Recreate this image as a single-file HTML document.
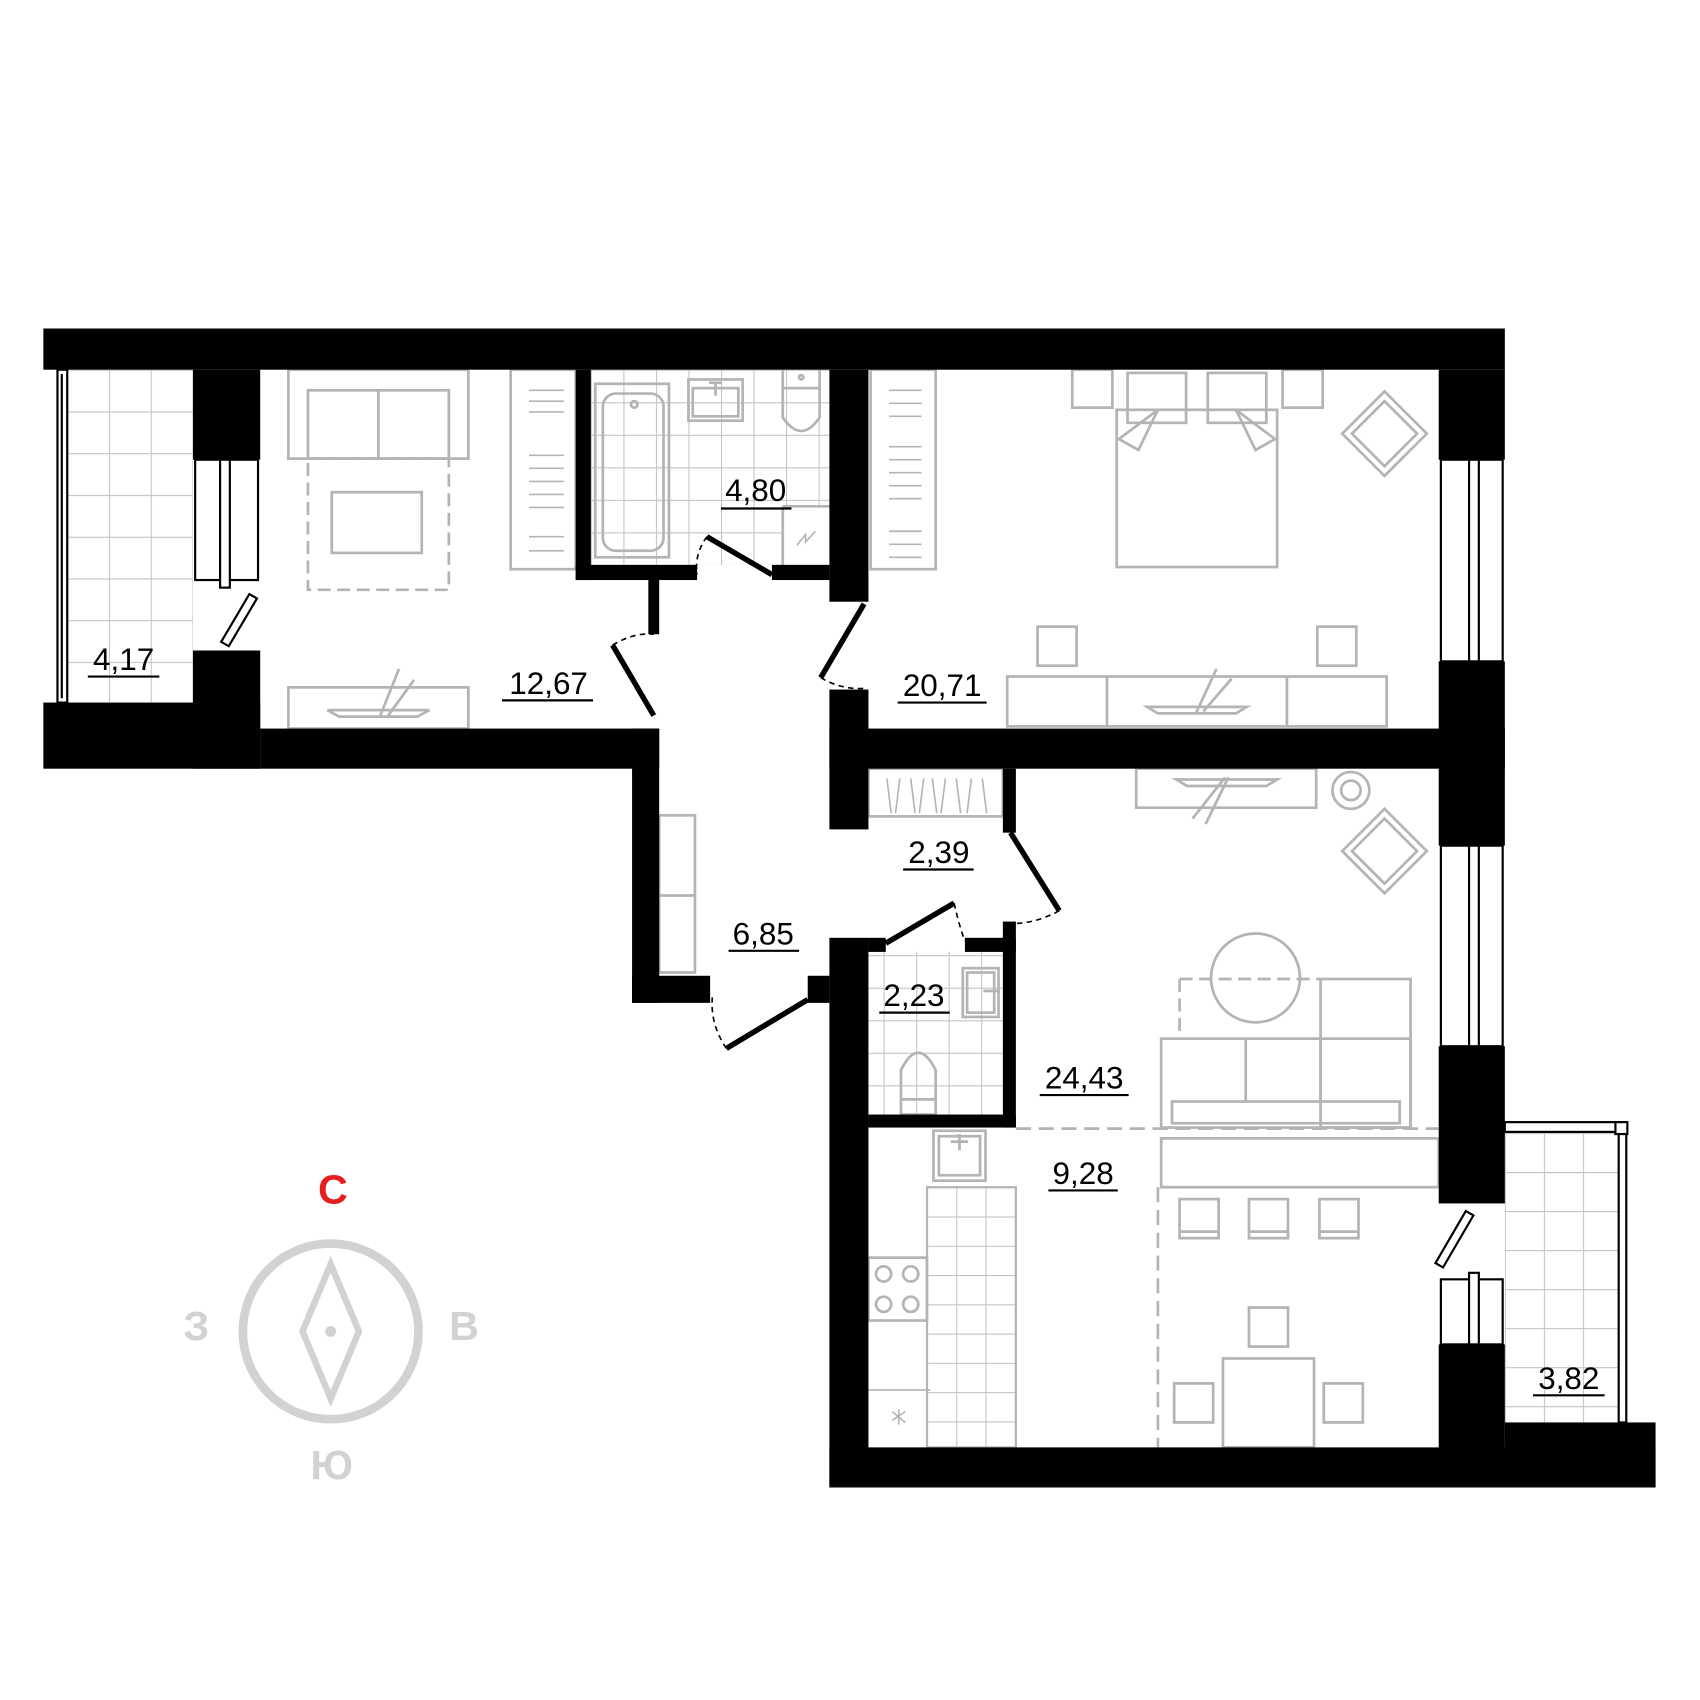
<!DOCTYPE html>
<html><head><meta charset="utf-8"><style>html,body{margin:0;padding:0;background:#fff}svg{display:block}</style></head><body>
<svg width="1700" height="1700" viewBox="0 0 1568 1568" xmlns="http://www.w3.org/2000/svg">
<defs>
<pattern id="t" x="62" y="341" width="38.5" height="38.5" patternUnits="userSpaceOnUse"><path d="M0 0H38.5M0 0V38.5" stroke="#c4c4c4" stroke-width="2" fill="none"/></pattern>
<pattern id="t2" x="545" y="341" width="30" height="30" patternUnits="userSpaceOnUse"><path d="M0 0H30M0 0V30" stroke="#c4c4c4" stroke-width="2" fill="none"/></pattern>
<pattern id="t3" x="855" y="1095" width="27" height="27" patternUnits="userSpaceOnUse"><path d="M0 0H27M0 0V27" stroke="#c4c4c4" stroke-width="2" fill="none"/></pattern>
<pattern id="t4" x="1388" y="1045" width="36" height="36" patternUnits="userSpaceOnUse"><path d="M0 0H36M0 0V36" stroke="#c4c4c4" stroke-width="2" fill="none"/></pattern>
</defs>
<!-- tiles -->
<rect x="62" y="341" width="116" height="307" fill="url(#t)"/>
<rect x="545" y="341" width="220" height="180" fill="url(#t2)"/>
<rect x="801" y="878" width="124" height="150" fill="url(#t2)"/>
<rect x="855" y="1095" width="82" height="240" fill="url(#t3)"/>
<rect x="1388" y="1045" width="105" height="267" fill="url(#t4)"/>
<g fill="#fff" stroke="none">
<rect x="722" y="467" width="43" height="54"/><rect x="801" y="1280" width="54" height="55"/>
</g>
<!-- furniture -->
<g fill="none" stroke="#b4b4b4" stroke-width="2.5">
<!-- 12,67 -->
<rect x="266" y="341" width="166" height="82"/><rect x="284" y="360" width="130" height="63"/><line x1="349" y1="360" x2="349" y2="423"/>
<rect x="284" y="423" width="130" height="121" stroke-dasharray="12 6"/><rect x="306" y="454" width="83" height="56"/>
<rect x="266" y="634" width="166" height="38"/><path d="M302 655H396L385 661H313Z"/><line x1="350" y1="662" x2="368" y2="617"/><line x1="358" y1="660" x2="382" y2="627"/>
<rect x="471" y="341" width="60" height="184"/><rect x="803" y="341" width="60" height="184"/>
<path d="M488 360H520M488 370H520M488 380H520M488 420H520M488 432H520M488 444H520M488 456H520M488 468H520M488 495H520M488 508H520M820 360H850M820 372H850M820 384H850M820 412H850M820 424H850M820 436H850M820 448H850M820 460H850M820 490H850M820 502H850M820 514H850" stroke-width="1.5"/>
<!-- bath -->
<rect x="549" y="354" width="68" height="160"/><rect x="556" y="363" width="56" height="145" rx="12"/><circle cx="585" cy="373" r="3"/>
<rect x="635" y="350" width="50" height="38"/><rect x="639" y="358" width="42" height="26"/><path d="M654 353H666M660 353V365"/>
<path d="M722 341V358H756V341M722 358V385Q739 410 756 385V358"/><circle cx="739" cy="348" r="2"/>
<path d="M722 467V521M722 467H765"/><path d="M735 503L743 493V500L752 490" stroke-width="1.5"/>
<!-- bedroom -->
<rect x="989" y="341" width="37" height="35"/><rect x="1183" y="341" width="37" height="35"/>
<rect x="1030" y="378" width="148" height="145"/><rect x="1040" y="344" width="54" height="46"/><rect x="1114" y="344" width="54" height="46"/>
<path d="M1068 378L1032 405L1050 415ZM1140 378L1176 405L1158 415Z"/>
<path d="M1277 361L1316 400L1277 439L1238 400Z"/><path d="M1277 370L1307 400L1277 430L1247 400Z"/>
<rect x="957" y="578" width="36" height="36"/><rect x="1215" y="578" width="36" height="36"/>
<rect x="929" y="624" width="350" height="46"/><line x1="1021" y1="624" x2="1021" y2="670"/><line x1="1187" y1="624" x2="1187" y2="670"/>
<path d="M1058 652H1150L1140 658H1068Z"/><line x1="1103" y1="658" x2="1122" y2="617"/><line x1="1110" y1="656" x2="1136" y2="626"/>
<!-- closet 2,39 -->
<rect x="801" y="709" width="124" height="44"/>
<path d="M818 718L822 750M830 718L826 750M840 718L844 750M852 718L848 750M860 718L864 750M872 718L868 750M882 718L886 750M896 718L892 750M906 718L910 750" stroke-width="1.5"/>
<!-- corridor shelves -->
<rect x="608" y="752" width="33" height="145"/><line x1="608" y1="826" x2="641" y2="826"/>
<!-- living -->
<rect x="1048" y="709" width="166" height="36"/><path d="M1085 719H1178L1168 725H1095Z"/><line x1="1100" y1="755" x2="1130" y2="717"/><line x1="1112" y1="760" x2="1133" y2="717"/>
<circle cx="1246" cy="729" r="17"/><circle cx="1246" cy="729" r="9"/>
<path d="M1277 746L1316 785L1277 824L1238 785Z"/><path d="M1277 755L1307 785L1277 815L1247 785Z"/>
<circle cx="1158" cy="902" r="41"/><path d="M1088 903H1218" stroke-dasharray="12 6"/><line x1="1088" y1="903" x2="1088" y2="958" stroke-dasharray="12 6"/>
<rect x="1218" y="903" width="83" height="137"/>
<rect x="1071" y="958" width="230" height="82"/><rect x="1081" y="1016" width="210" height="20"/><line x1="1149" y1="958" x2="1149" y2="1016"/><line x1="1218" y1="958" x2="1218" y2="1016"/>
<line x1="937" y1="1041" x2="1327" y2="1041" stroke-dasharray="14 7"/>
<rect x="1071" y="1050" width="256" height="45"/>
<rect x="1088" y="1106" width="36" height="36"/><rect x="1152" y="1106" width="36" height="36"/><rect x="1217" y="1106" width="36" height="36"/>
<path d="M1088 1136H1124M1152 1136H1188M1217 1136H1253"/>
<line x1="1068" y1="1095" x2="1068" y2="1335" stroke-dasharray="14 7"/>
<rect x="1152" y="1206" width="36" height="36"/><rect x="1128" y="1253" width="84" height="82"/>
<rect x="1083" y="1276" width="36" height="36"/><rect x="1221" y="1276" width="36" height="36"/>
<!-- wc -->
<rect x="888" y="893" width="33" height="45"/><rect x="892" y="897" width="25" height="37"/><path d="M907 914H921"/>
<path d="M831 1028V987Q847 955 863 987V1028Z"/><path d="M831 1014H863"/>
<!-- kitchen -->
<rect x="861" y="1043" width="48" height="46"/><rect x="866" y="1048" width="38" height="36"/><path d="M877 1053H893M885 1046V1061"/>
<rect x="855" y="1095" width="82" height="240" stroke-width="2"/>
<rect x="801" y="1160" width="54" height="58"/><circle cx="815" cy="1175" r="7"/><circle cx="840" cy="1175" r="7"/><circle cx="815" cy="1203" r="7"/><circle cx="840" cy="1203" r="7"/>
<path d="M801 1282H858M823 1310L835 1302M829 1300V1314M823 1302L835 1312" stroke-width="1.5"/>
</g>
<!-- window frames -->
<g fill="#fff" stroke="#000" stroke-width="2">
<rect x="53" y="341" width="9" height="307"/><line x1="57" y1="345" x2="57" y2="644"/>
<rect x="180" y="424" width="58" height="111"/><rect x="203" y="424" width="9" height="118"/>
<rect x="1329" y="424" width="57" height="186"/><rect x="1355" y="424" width="9" height="186"/>
<rect x="1329" y="780" width="57" height="185"/><rect x="1355" y="780" width="9" height="185"/>
<rect x="1329" y="1180" width="57" height="60"/><rect x="1355" y="1174" width="9" height="66"/>
<rect x="1493" y="1040" width="7" height="272"/><rect x="1388" y="1035" width="105" height="9"/><rect x="1490" y="1035" width="11" height="11"/>
<path d="M204 592L230 548L237 552L211 596Z"/><path d="M1324 1165L1352 1117L1359 1121L1331 1169Z"/>
</g>
<!-- walls -->
<g fill="#000">
<rect x="40" y="303" width="1348" height="38"/>
<rect x="178" y="341" width="62" height="83"/>
<rect x="178" y="600" width="62" height="109"/>
<rect x="40" y="648" width="200" height="61"/>
<rect x="240" y="672" width="368" height="37"/>
<rect x="583" y="672" width="25" height="253"/>
<rect x="583" y="900" width="72" height="25"/>
<rect x="531" y="341" width="14" height="194"/>
<rect x="531" y="521" width="112" height="14"/>
<rect x="712" y="521" width="53" height="14"/>
<rect x="598" y="535" width="10" height="50"/>
<rect x="765" y="341" width="36" height="214"/>
<rect x="765" y="636" width="36" height="129"/>
<rect x="765" y="672" width="623" height="37"/>
<rect x="1327" y="341" width="61" height="83"/>
<rect x="1327" y="610" width="61" height="170"/>
<rect x="1327" y="965" width="61" height="145"/>
<rect x="1327" y="1240" width="61" height="132"/>
<rect x="765" y="1335" width="762" height="37"/>
<rect x="1388" y="1312" width="139" height="60"/>
<rect x="765" y="865" width="36" height="507"/>
<rect x="745" y="900" width="20" height="25"/>
<rect x="801" y="865" width="16" height="13"/>
<rect x="890" y="865" width="47" height="13"/>
<rect x="925" y="709" width="12" height="59"/>
<rect x="925" y="850" width="12" height="190"/>
<rect x="801" y="1028" width="136" height="12"/>
</g>
<!-- doors -->
<g stroke="#000" stroke-width="5" fill="none">
<line x1="652" y1="495" x2="712" y2="530"/>
<line x1="603" y1="660" x2="565" y2="595"/>
<line x1="797" y1="557" x2="757" y2="625"/>
<line x1="932" y1="768" x2="977" y2="840"/>
<line x1="880" y1="833" x2="817" y2="870"/>
<line x1="670" y1="967" x2="745" y2="922"/>
</g>
<g stroke="#000" stroke-width="1.5" fill="none" stroke-dasharray="5 4">
<path d="M652 495Q640 512 643 530"/><path d="M565 595Q585 583 603 585"/><path d="M757 625Q775 636 797 635"/>
<path d="M977 840Q955 852 932 852"/><path d="M880 833Q885 855 890 868"/><path d="M670 967Q655 945 657 920"/>
</g>
<!-- labels -->
<g font-family="Liberation Sans, sans-serif" font-size="29" fill="#000" text-anchor="middle">
<text x="114" y="618">4,17</text><text x="506" y="640">12,67</text><text x="697" y="462">4,80</text>
<text x="869" y="642">20,71</text><text x="866" y="796">2,39</text><text x="704" y="871">6,85</text>
<text x="843" y="928">2,23</text><text x="1000" y="1004">24,43</text><text x="999" y="1092">9,28</text>
<text x="1447" y="1281">3,82</text>
</g>
<g stroke="#000" stroke-width="2">
<line x1="81" y1="624" x2="147" y2="624"/><line x1="463" y1="646" x2="547" y2="646"/><line x1="665" y1="469" x2="730" y2="469"/>
<line x1="828" y1="648" x2="910" y2="648"/><line x1="833" y1="802" x2="898" y2="802"/><line x1="672" y1="877" x2="737" y2="877"/>
<line x1="811" y1="934" x2="876" y2="934"/><line x1="959" y1="1010" x2="1041" y2="1010"/><line x1="967" y1="1098" x2="1031" y2="1098"/>
<line x1="1414" y1="1287" x2="1480" y2="1287"/>
</g>
<!-- compass -->
<circle cx="305" cy="1228" r="81" fill="none" stroke="#d2d2d2" stroke-width="8"/>
<path d="M305 1166L331 1228L305 1290L279 1228Z" fill="none" stroke="#d2d2d2" stroke-width="6"/>
<circle cx="305" cy="1228" r="5" fill="#d2d2d2"/>
<g font-family="Liberation Sans, sans-serif" font-weight="bold" font-size="38" text-anchor="middle" fill="#d2d2d2">
<text x="181" y="1236">З</text><text x="428" y="1236">В</text><text x="306" y="1364">Ю</text>
<text x="307" y="1110" fill="#e41e1e">С</text>
</g>
</svg>
</body></html>
